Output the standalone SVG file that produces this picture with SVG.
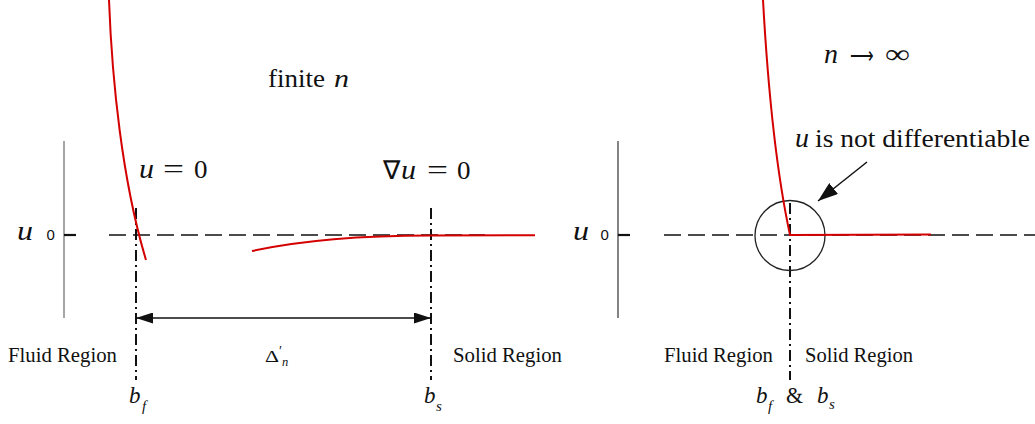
<svg xmlns="http://www.w3.org/2000/svg" width="1035" height="424" viewBox="0 0 1035 424">
<style>
.dash{stroke:#111;stroke-width:1.5;stroke-dasharray:17 7;fill:none}
.dashdot{stroke:#111;stroke-width:2;stroke-dasharray:11 4 2 4;fill:none}
.curve{stroke:#d40000;stroke-width:2;fill:none}
.arr{stroke:#111;stroke-width:1.5;fill:none}
text{font-family:"Liberation Serif","Times New Roman",serif;fill:#111}
text.sans{font-family:"Liberation Sans",Arial,sans-serif}
text.i{font-style:italic}
</style>
<defs>
<marker id="ah" viewBox="0 0 17 11" refX="17" refY="5.5" markerWidth="17" markerHeight="11" markerUnits="userSpaceOnUse" orient="auto-start-reverse">
<path d="M0,0 L17,5.5 L0,11 Z" fill="#111"/>
</marker>
<marker id="ah2" viewBox="0 0 20 14" refX="20" refY="7" markerWidth="20" markerHeight="14" markerUnits="userSpaceOnUse" orient="auto">
<path d="M0,0 L20,7 L0,14 Z" fill="#111"/>
</marker>
</defs>

<g id="left-panel">
<line x1="64" y1="141" x2="64" y2="318" stroke="#888" stroke-width="1.5"/>
<line x1="64" y1="235" x2="76" y2="235" stroke="#111" stroke-width="2.2"/>
<text class="i" x="17" y="240" font-size="27" textLength="16" lengthAdjust="spacingAndGlyphs">u</text>
<text class="sans" x="46.5" y="240" font-size="15">0</text>
<line class="dash" x1="109" y1="235" x2="485" y2="235"/>
<line class="dashdot" x1="136" y1="208" x2="136" y2="380"/>
<line class="dashdot" x1="431" y1="208" x2="431" y2="380"/>
<path class="curve" d="M109,0 C112,80 122,180 146,260"/>
<path class="curve" d="M252,251 C312,238 380,235.5 431,235.5 L535,235.2"/>
<text x="268" y="87" font-size="26" textLength="57" lengthAdjust="spacingAndGlyphs">finite</text>
<text class="i" x="334" y="87" font-size="26" textLength="15" lengthAdjust="spacingAndGlyphs">n</text>
<text class="i" x="139" y="178" font-size="27" textLength="15" lengthAdjust="spacingAndGlyphs">u</text>
<text x="163" y="178" font-size="27" textLength="21" lengthAdjust="spacingAndGlyphs">=</text>
<text x="194" y="178" font-size="26" textLength="13.5" lengthAdjust="spacingAndGlyphs">0</text>
<text x="383" y="179" font-size="26" textLength="17" lengthAdjust="spacingAndGlyphs">∇</text>
<text class="i" x="401" y="179" font-size="27" textLength="15" lengthAdjust="spacingAndGlyphs">u</text>
<text x="427" y="179" font-size="27" textLength="21" lengthAdjust="spacingAndGlyphs">=</text>
<text x="457" y="179" font-size="26" textLength="13.5" lengthAdjust="spacingAndGlyphs">0</text>
<text x="8" y="362" font-size="20.5" fill="#222" textLength="109" lengthAdjust="spacingAndGlyphs">Fluid Region</text>
<text x="453" y="362" font-size="20.5" fill="#222" textLength="109" lengthAdjust="spacingAndGlyphs">Solid Region</text>
<text x="265" y="362" font-size="17" textLength="14" lengthAdjust="spacingAndGlyphs">Δ</text>
<text x="279" y="356" font-size="14">′</text>
<text class="i" x="282" y="366" font-size="12.5">n</text>
<text class="i" x="129" y="403" font-size="23">b</text>
<text class="i" x="142" y="411" font-size="15">f</text>
<text class="i" x="424" y="403" font-size="23">b</text>
<text class="i" x="436" y="411" font-size="15">s</text>
</g>

<g id="right-panel">
<line x1="618" y1="141" x2="618" y2="318" stroke="#333" stroke-width="1.2"/>
<line x1="618" y1="235" x2="630" y2="235" stroke="#111" stroke-width="2.2"/>
<text class="i" x="573" y="240" font-size="27" textLength="16" lengthAdjust="spacingAndGlyphs">u</text>
<text class="sans" x="600.5" y="240" font-size="15">0</text>
<line class="dash" x1="664" y1="235" x2="1035" y2="235"/>
<line class="dashdot" x1="790" y1="203" x2="790" y2="380"/>
<circle cx="790" cy="235.5" r="35" fill="none" stroke="#222" stroke-width="1.3"/>
<path class="curve" d="M763,0 C768,90 776,170 790,235 L931,234.5"/>
<text class="i" x="824" y="63" font-size="27" textLength="14" lengthAdjust="spacingAndGlyphs">n</text>
<text x="850" y="63" font-size="22" font-family="'DejaVu Sans',sans-serif" textLength="24" lengthAdjust="spacingAndGlyphs">⟶</text>
<text x="885" y="63" font-size="27" textLength="25" lengthAdjust="spacingAndGlyphs">∞</text>
<text class="i" x="795" y="147" font-size="27" textLength="14" lengthAdjust="spacingAndGlyphs">u</text>
<text x="815" y="147" font-size="25" textLength="215" lengthAdjust="spacingAndGlyphs">is not differentiable</text>
<text x="664" y="362" font-size="20.5" fill="#222" textLength="109" lengthAdjust="spacingAndGlyphs">Fluid Region</text>
<text x="805" y="362" font-size="20.5" fill="#222" textLength="108" lengthAdjust="spacingAndGlyphs">Solid Region</text>
<text class="i" x="756" y="403" font-size="23">b</text>
<text class="i" x="768" y="411" font-size="15">f</text>
<text x="786" y="403" font-size="23" textLength="17" lengthAdjust="spacingAndGlyphs">&amp;</text>
<text class="i" x="817" y="403" font-size="23">b</text>
<text class="i" x="829" y="409" font-size="15">s</text>
</g>

<g id="connectors">
<line class="arr" x1="136" y1="318" x2="431" y2="318" marker-start="url(#ah)" marker-end="url(#ah)"/>
<line class="arr" x1="867" y1="162" x2="818" y2="201" marker-end="url(#ah2)"/>
</g>
</svg>
